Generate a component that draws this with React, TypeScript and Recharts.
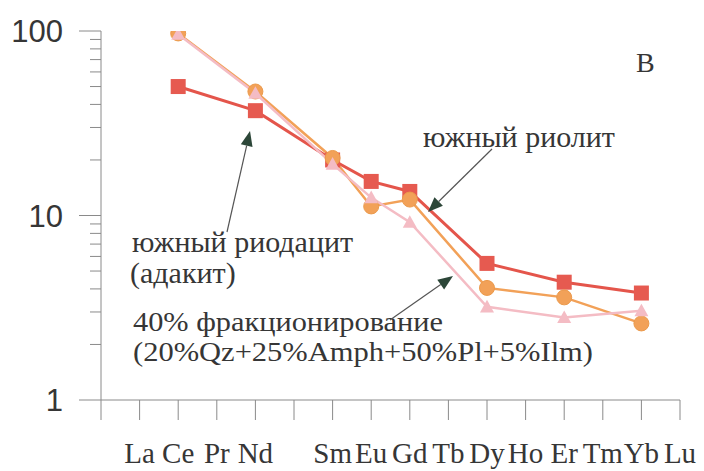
import React from "react";
import { LineChart, Line, XAxis, YAxis } from "recharts";

// REE pattern, chondrite-normalised (log scale)
const elements = ["La", "Ce", "Pr", "Nd", "Pm", "Sm", "Eu", "Gd", "Tb", "Dy", "Ho", "Er", "Tm", "Yb", "Lu"];
const elementLabels = ["La", "Ce", "Pr", "Nd", "", "Sm", "Eu", "Gd", "Tb", "Dy", "Ho", "Er", "Tm", "Yb", "Lu"];

const rhyolite = [null, 50, null, 37, null, 20, 15.3, 13.5, null, 5.5, null, 4.35, null, 3.8, null];
const rhyodacite = [null, 97, null, 47, null, 20.5, 11.2, 12.2, null, 4.05, null, 3.6, null, 2.6, null];
const fractionation = [null, 96, null, 46, null, 19, 12.5, 9.2, null, 3.2, null, 2.8, null, 3.05, null];

const yTicks = [1, 2, 3, 4, 5, 6, 7, 8, 9, 10, 20, 30, 40, 50, 60, 70, 80, 90, 100];
const yMajor = [1, 10, 100];

const data = elements.map((el, i) => ({
  pos: i + 1,
  el,
  rhyolite: rhyolite[i],
  rhyodacite: rhyodacite[i],
  fractionation: fractionation[i],
}));

const RED = "#e4554b";
const ORANGE = "#f2a158";
const PINK = "#f4bcc4";
const AXIS = "#8a8a8a";
const TEXT = "#363636";
const ARROW = "#2c4638";
const SERIF = "'Liberation Serif', 'DejaVu Serif', serif";
const SANS = "'Liberation Sans', Arial, sans-serif";

const serifStyle = { fontFamily: SERIF };
const sansStyle = { fontFamily: SANS };

const SquareDot = (props: any) => {
  const { cx, cy, index } = props;
  if (cx == null || cy == null || props.value == null) return <g key={index} />;
  return <rect key={index} x={cx - 7.5} y={cy - 7.5} width={15} height={15} fill="#e65a50" />;
};

const CircleDot = (props: any) => {
  const { cx, cy, index } = props;
  if (cx == null || cy == null || props.value == null) return <g key={index} />;
  return <circle key={index} cx={cx} cy={cy} r={7.5} fill={ORANGE} stroke="#eb9a4c" strokeWidth={1} />;
};

const TriangleDot = (props: any) => {
  const { cx, cy, index } = props;
  if (cx == null || cy == null || props.value == null) return <g key={index} />;
  const s = 7;
  return (
    <path
      key={index}
      d={`M${cx},${cy - s} L${cx + s},${cy + s * 0.8} L${cx - s},${cy + s * 0.8} Z`}
      fill={PINK}
    />
  );
};

const YTick = (props: any) => {
  const { x, y, payload } = props;
  const major = yMajor.includes(payload.value);
  return (
    <g>
      <line x1={x - (major ? 22 : 11)} x2={x} y1={y} y2={y} stroke={AXIS} strokeWidth={1} />
      {major && (
        <text x={x - 38} y={y} dy="0.36em" textAnchor="end" style={sansStyle} fontSize={31} fill={TEXT}>
          {payload.value}
        </text>
      )}
    </g>
  );
};

const XTick = (props: any) => {
  const { x, y, payload } = props;
  const label = payload.value >= 1 ? elementLabels[payload.value - 1] : "";
  return (
    <g>
      <line x1={x} x2={x} y1={y} y2={y + 20} stroke={AXIS} strokeWidth={1} />
      {label && (
        <text x={x} y={y + 63} textAnchor="middle" style={serifStyle} fontSize={29} fill={TEXT}>
          {label}
        </text>
      )}
    </g>
  );
};

// arrow with a filled head at (x2, y2)
const Arrow = ({ x1, y1, x2, y2 }: { x1: number; y1: number; x2: number; y2: number }) => {
  const dx = x2 - x1;
  const dy = y2 - y1;
  const len = Math.hypot(dx, dy);
  const ux = dx / len;
  const uy = dy / len;
  const hl = 15;
  const hw = 6;
  const bx = x2 - ux * hl;
  const by = y2 - uy * hl;
  return (
    <g>
      <line x1={x1} y1={y1} x2={bx} y2={by} stroke="#555" strokeWidth={1.2} />
      <polygon
        points={`${x2},${y2} ${bx - uy * hw},${by + ux * hw} ${bx + uy * hw},${by - ux * hw}`}
        fill={ARROW}
      />
    </g>
  );
};

const App: React.FC = () => {
  return (
    <div style={{ position: "fixed", left: 0, top: 0, width: 704, height: 471, background: "#fff" }}>
      <LineChart width={704} height={471} data={data} margin={{ top: 31, right: 24, bottom: 0, left: 0 }}>
        <XAxis
          dataKey="pos"
          type="number"
          domain={[0, 15]}
          ticks={[0, 1, 2, 3, 4, 5, 6, 7, 8, 9, 10, 11, 12, 13, 14, 15]}
          height={71}
          stroke={AXIS}
          tickLine={false}
          tickSize={0}
          tickMargin={0}
          tick={<XTick />}
          interval={0}
        />
        <YAxis
          scale="log"
          domain={[1, 100]}
          ticks={yTicks}
          width={101}
          stroke={AXIS}
          tickLine={false}
          tickSize={0}
          tickMargin={0}
          tick={<YTick />}
          interval={0}
          allowDataOverflow
        />
        <Line
          dataKey="rhyolite"
          stroke={RED}
          strokeWidth={3}
          connectNulls
          dot={SquareDot}
          activeDot={false}
          isAnimationActive={false}
        />
        <Line
          dataKey="rhyodacite"
          stroke={ORANGE}
          strokeWidth={2.5}
          connectNulls
          dot={CircleDot}
          activeDot={false}
          isAnimationActive={false}
        />
        <Line
          dataKey="fractionation"
          stroke={PINK}
          strokeWidth={2.5}
          connectNulls
          dot={TriangleDot}
          activeDot={false}
          isAnimationActive={false}
        />
      </LineChart>

      <svg
        width={704}
        height={471}
        style={{ position: "absolute", left: 0, top: 0, pointerEvents: "none" }}
      >
        <g style={serifStyle} fill={TEXT} fontSize={30}>
          <text x={636} y={72} fontSize={28}>В</text>
          <text x={423} y={147}>южный риолит</text>
          <text x={132} y={252}>южный риодацит</text>
          <text x={130} y={283}>(адакит)</text>
          <text x={133} y={331} fontSize={27} textLength={310} lengthAdjust="spacingAndGlyphs">
            40% фракционирование
          </text>
          <text x={133} y={361} fontSize={27} textLength={460} lengthAdjust="spacingAndGlyphs">
            (20%Qz+25%Amph+50%Pl+5%Ilm)
          </text>
        </g>
        <Arrow x1={227} y1={232} x2={250} y2={131} />
        <Arrow x1={492} y1={149} x2={428} y2={212} />
        <Arrow x1={390} y1={320} x2={453} y2={276} />
      </svg>
    </div>
  );
};

export default App;
